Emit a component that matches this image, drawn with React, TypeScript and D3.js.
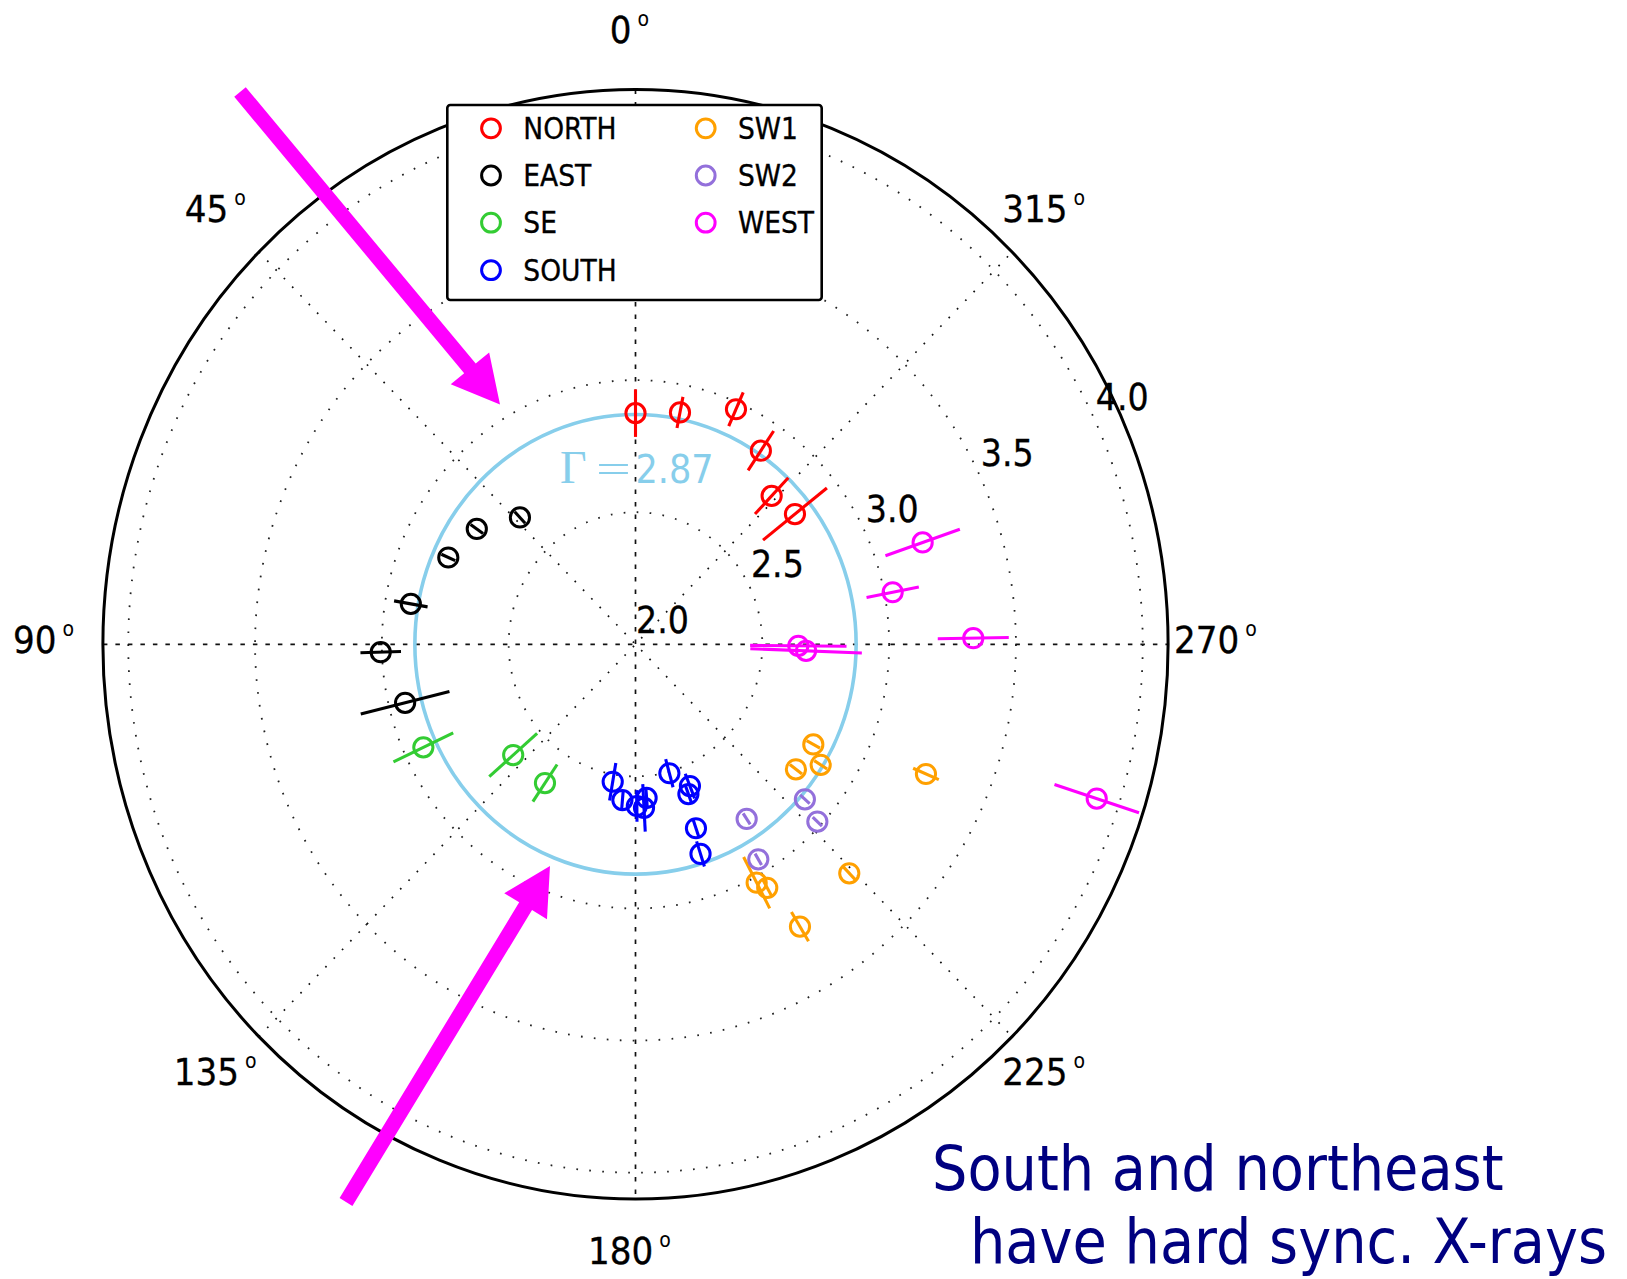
import React from 'react';
import * as d3 from 'd3';

// ---------------- data ----------------
const CATEGORIES = ['NORTH', 'EAST', 'SE', 'SOUTH', 'SW1', 'SW2', 'WEST'];
const COLORS = ['#ff0000', '#000000', '#33cc33', '#0000ff', '#ffa000', '#9370db', '#ff00ff'];

// azimuth in degrees (0 = top, counter-clockwise), photon index, radial error
const NORTH_THETA = [0, 348.7, 336, 326, 316.3, 308.1];
const NORTH_GAMMA = [2.875, 2.895, 2.974, 2.884, 2.777, 2.799];
const NORTH_ERR = [0.09, 0.06, 0.07, 0.09, 0.095, 0.16];

const EAST_THETA = [43.5, 55.1, 66.0, 80.2, 91.7, 103.7];
const EAST_GAMMA = [2.662, 2.763, 2.808, 2.899, 3.005, 2.935];
const EAST_ERR = [0.03, 0.03, 0.03, 0.067, 0.08, 0.18];

const SE_THETA = [115.0, 131.0, 145.8];
const SE_GAMMA = [2.923, 2.639, 2.635];
const SE_ERR = [0.13, 0.125, 0.085];

const SOUTH_THETA = [170.2, 175.0, 180.5, 183.1, 184.3, 195.3, 201.8, 200.2, 198.9, 197.9];
const SOUTH_GAMMA = [2.528, 2.592, 2.612, 2.62, 2.583, 2.506, 2.578, 2.604, 2.736, 2.834];
const SOUTH_ERR = [0.072, 0.035, 0.06, 0.09, 0.04, 0.055, 0.05, 0.035, 0.035, 0.05];

const SW1_THETA = [241.6, 233.2, 238.0, 207.9, 209.4, 224.2, 211.25, 246.8];
const SW1_GAMMA = [2.797, 2.79, 2.861, 3.021, 3.058, 3.209, 3.25, 3.246];
const SW1_ERR = [0.03, 0.03, 0.03, 0.11, 0.035, 0.035, 0.065, 0.055];

const SW2_THETA = [213.55, 210.75, 228.7, 226.9];
const SW2_GAMMA = [2.793, 2.947, 2.889, 2.982];
const SW2_ERR = [0.025, 0.025, 0.025, 0.025];

const WEST_THETA = [288.8, 281.0, 271.0, 269.5, 267.9, 252.2];
const WEST_GAMMA = [3.196, 3.033, 3.332, 2.642, 2.673, 3.91];
const WEST_ERR = [0.155, 0.105, 0.14, 0.19, 0.22, 0.175];

const SERIES_THETA = [NORTH_THETA, EAST_THETA, SE_THETA, SOUTH_THETA, SW1_THETA, SW2_THETA, WEST_THETA];
const SERIES_GAMMA = [NORTH_GAMMA, EAST_GAMMA, SE_GAMMA, SOUTH_GAMMA, SW1_GAMMA, SW2_GAMMA, WEST_GAMMA];
const SERIES_ERR = [NORTH_ERR, EAST_ERR, SE_ERR, SOUTH_ERR, SW1_ERR, SW2_ERR, WEST_ERR];

const R_TICKS = [2.0, 2.5, 3.0, 3.5, 4.0];
const ANGLE_TICKS = [0, 45, 90, 135, 180, 225, 270, 315];
const R_MIN = 2.0;
const R_MAX = 4.1;
const GAMMA_AVG = 2.87;
const NOTE_LINES = ['South and northeast', 'have hard sync. X-rays'];

// ---------------- layout ----------------
const W = 1627;
const H = 1279;
const CX = 635.5;
const CY = 644.3;
const RX_OUT = 532.6;
const RY_OUT = 554.8;
const FONT = "'DejaVu Sans Condensed', 'DejaVu Sans', sans-serif";
const SERIF = "'Liberation Serif', 'DejaVu Serif', serif";
const SKY = '#87ceeb';
const ARROW = '#ff00ff';

const rx = d3.scaleLinear().domain([R_MIN, R_MAX]).range([0, RX_OUT]);
const ry = d3.scaleLinear().domain([R_MIN, R_MAX]).range([0, RY_OUT]);

function pt(thetaDeg: number, r: number): [number, number] {
  const t = (thetaDeg * Math.PI) / 180;
  return [CX - rx(r) * Math.sin(t), CY - ry(r) * Math.cos(t)];
}

function arrowPoints(tail: [number, number], tip: [number, number], shaftW: number, headW: number, headL: number) {
  const dx = tip[0] - tail[0];
  const dy = tip[1] - tail[1];
  const len = Math.hypot(dx, dy);
  const ux = dx / len, uy = dy / len;
  const nx = -uy, ny = ux;
  const bx = tip[0] - ux * headL, by = tip[1] - uy * headL;
  const pts: [number, number][] = [
    [tail[0] + nx * shaftW / 2, tail[1] + ny * shaftW / 2],
    [bx + nx * shaftW / 2, by + ny * shaftW / 2],
    [bx + nx * headW / 2, by + ny * headW / 2],
    tip,
    [bx - nx * headW / 2, by - ny * headW / 2],
    [bx - nx * shaftW / 2, by - ny * shaftW / 2],
    [tail[0] - nx * shaftW / 2, tail[1] - ny * shaftW / 2],
  ];
  return pts.map((p) => p.join(',')).join(' ');
}

const ARROWS: { tail: [number, number]; tip: [number, number] }[] = [
  { tail: [240, 92], tip: [500, 404.5] },
  { tail: [346, 1202], tip: [550, 866] },
];

export default function App() {
  const rings = R_TICKS.filter((t) => t > R_MIN);
  const spokes = [0, 45, 90, 135];
  const labelR = R_MIN + 1.1 * (R_MAX - R_MIN);

  const legendX = 447.3, legendY = 105, legendW = 374.4, legendH = 195;
  const legendCols = [491, 705.7];
  const legendRows = [128.3, 175.5, 222.7, 270.2];

  return (
    <svg width={W} height={H} style={{ position: 'absolute', left: 0, top: 0, background: '#fff' }}>
      <rect x={0} y={0} width={W} height={H} fill="#fff" />
      {/* rings */}
      {rings.map((t) => (
        <ellipse key={'ring' + t} cx={CX} cy={CY} rx={rx(t)} ry={ry(t)} fill="none"
          stroke="#222" strokeWidth={1.8} strokeDasharray="1.7 11.3" />
      ))}
      {/* spokes */}
      {spokes.map((a) => {
        const p1 = pt(a, R_MAX);
        const p2 = pt(a + 180, R_MAX);
        const main = a % 90 === 0;
        return (
          <line key={'sp' + a} x1={p1[0]} y1={p1[1]} x2={p2[0]} y2={p2[1]}
            stroke="#111" strokeWidth={1.7}
            strokeDasharray={main ? '4.5 8' : '1.7 10.3'} />
        );
      })}
      {/* outer circle */}
      <ellipse cx={CX} cy={CY} rx={rx(R_MAX)} ry={ry(R_MAX)} fill="none" stroke="#000" strokeWidth={3} />

      {/* ring labels */}
      {R_TICKS.map((t) => {
        const p = pt(295, t);
        return (
          <text key={'rl' + t} x={p[0] + 0.5} y={p[1] - 11} fontFamily={FONT} fontStretch="condensed"
            fontSize={37} fill="#000" stroke="#000" strokeWidth={0.3}>{t.toFixed(1)}</text>
        );
      })}

      {/* angle labels */}
      {ANGLE_TICKS.map((a) => {
        const p = pt(a, labelR);
        return (
          <text key={'al' + a} x={p[0] - 6} y={p[1] + 9} textAnchor="middle" fontFamily={FONT}
            fontStretch="condensed" fontSize={38} fill="#000" stroke="#000" strokeWidth={0.3}>
            {String(a)}
            <tspan fontSize={21} dx={6} dy={-17} strokeWidth={0}>o</tspan>
          </text>
        );
      })}

      {/* average gamma circle */}
      <ellipse cx={CX} cy={CY} rx={rx(GAMMA_AVG)} ry={ry(GAMMA_AVG)} fill="none" stroke={SKY} strokeWidth={3.6} />
      <text x={560} y={483} fill={SKY} fontSize={46} fontFamily={SERIF}>Γ</text>
      <text transform="translate(596,483) scale(1.55,1)" x={0} y={0} fill={SKY} fontSize={40} fontFamily={SERIF}>=</text>
      <text x={CX} y={483} fill={SKY} fontFamily={FONT} fontStretch="condensed" fontSize={39}>{GAMMA_AVG.toFixed(2)}</text>

      {/* data: error bars + markers */}
      {CATEGORIES.map((cat, si) => (
        <g key={cat}>
          {SERIES_THETA[si].map((th, i) => {
            const g = SERIES_GAMMA[si][i];
            const e = SERIES_ERR[si][i];
            const a = pt(th, g - e);
            const b = pt(th, g + e);
            const c = pt(th, g);
            return (
              <g key={i}>
                <line x1={a[0]} y1={a[1]} x2={b[0]} y2={b[1]} stroke={COLORS[si]} strokeWidth={3.1} />
                <circle cx={c[0]} cy={c[1]} r={9.6} fill="none" stroke={COLORS[si]} strokeWidth={3} />
              </g>
            );
          })}
        </g>
      ))}

      {/* legend */}
      <rect x={legendX} y={legendY} width={legendW} height={legendH} rx={3} fill="#fff" stroke="#000" strokeWidth={2.6} />
      {CATEGORIES.map((cat, i) => {
        const col = i < 4 ? 0 : 1;
        const row = i < 4 ? i : i - 4;
        const mx = legendCols[col];
        const my = legendRows[row];
        return (
          <g key={'lg' + cat}>
            <circle cx={mx} cy={my} r={9.4} fill="none" stroke={COLORS[i]} strokeWidth={3} />
            <text x={mx + 32.3} y={my + 10.5} fontFamily={FONT} fontStretch="condensed" fontSize={29.5}
              fill="#000" stroke="#000" strokeWidth={0.3}>{cat}</text>
          </g>
        );
      })}

      {/* arrows */}
      {ARROWS.map((a, i) => (
        <polygon key={'ar' + i} points={arrowPoints(a.tail, a.tip, 15, 50, 47)} fill={ARROW} />
      ))}

      {/* annotation */}
      <text x={932} y={1190} fontFamily={FONT} fontStretch="condensed" fontSize={62} fill="#000080">{NOTE_LINES[0]}</text>
      <text x={970} y={1263} fontFamily={FONT} fontStretch="condensed" fontSize={62} fill="#000080">{NOTE_LINES[1]}</text>
    </svg>
  );
}
